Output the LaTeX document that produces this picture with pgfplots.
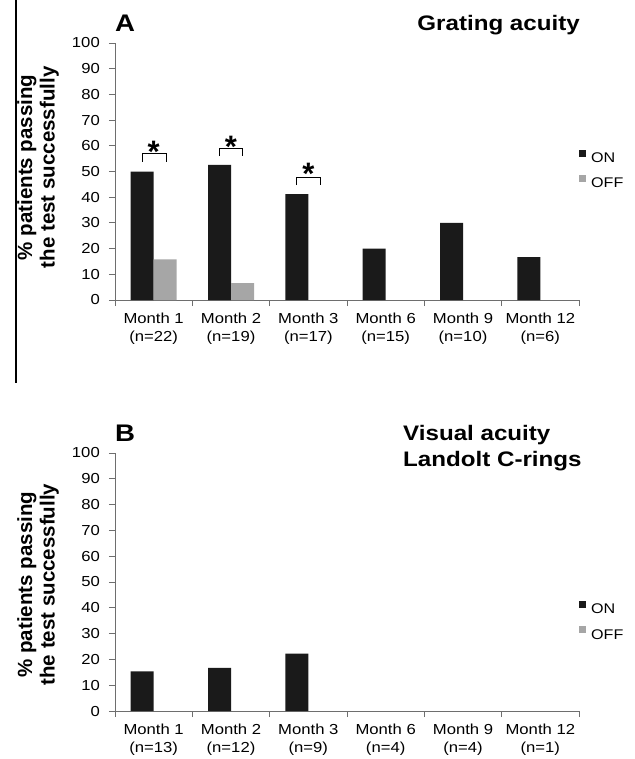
\documentclass[border=0pt]{standalone}
\usepackage{fontspec}
\setmainfont{Liberation Sans}
\newfontfamily\sfs{Liberation Sans}[FakeStretch=1.15]
\usepackage{pgfplots}
\pgfplotsset{compat=1.18}
\usepackage{pgfplotstable}
\definecolor{oncol}{HTML}{1A1A1A}
\definecolor{offcol}{HTML}{A6A6A6}
\definecolor{axcol}{HTML}{6E6E6E}

\pgfplotstableread{
x on
0 50.0
1 52.6
2 41.2
3 20.0
4 30.0
5 16.7
}\gratingon
\pgfplotstableread{
x off
0 15.8
1 6.6
}\gratingoff
\pgfplotstableread{
x on
0 15.4
1 16.7
2 22.2
}\landolton

\pgfplotsset{
  sq/.style={legend image code/.code={\fill[##1] (0pt,1.4pt) rectangle (7pt,8.4pt);}},
  panel/.style={
    scale only axis, width=464pt,
    xmin=-0.5, xmax=5.5, ymin=0, ymax=100,
    axis x line*=bottom, axis y line*=left,
    axis line style={axcol, line width=0.9pt},
    ytick={0,10,...,100},
    xtick={0,...,5},
    minor xtick={-0.5,0.5,...,5.5},
    tick align=outside,
    major tick length=6pt, minor tick length=6pt,
    every tick/.style={axcol, line width=0.9pt},
    major x tick style={draw=none},
    /pgf/number format/assume math mode=true,
    yticklabel style={font=\sfs\fontsize{14.5}{16}\selectfont, anchor=east, inner sep=0pt, xshift=-9pt},
    xticklabel style={font=\sfs\fontsize{14.5}{18}\selectfont, align=center, anchor=north, inner sep=0pt, yshift=-7pt},
    ybar, bar width=23pt,
    legend style={draw=none, fill=none, inner sep=0pt, font=\sfs\fontsize{14}{16}\selectfont, anchor=west, row sep=9pt,
      /tikz/every odd column/.append style={column sep=3pt}},
    legend cell align=left,
    ylabel={\% patients passing\\the test successfully},
    ylabel style={font=\bfseries\fontsize{20.5}{22.5}\selectfont, align=center, anchor=center},
  },
}

\begin{document}
\begin{tikzpicture}
\useasboundingbox (0pt,0pt) rectangle (634pt,-759pt);
\draw[line width=1.6pt] (16pt,0pt) -- (16pt,-383pt);

% Panel A
\begin{axis}[panel, height=257pt, at={(115pt,-300pt)}, anchor=south west,
  xticklabels={{Month 1\\(n=22)},{Month 2\\(n=19)},{Month 3\\(n=17)},{Month 6\\(n=15)},{Month 9\\(n=10)},{Month 12\\(n=6)}},
  ylabel style={at={(axis description cs:-0.166,0.516)}},
  legend style={at={(axis description cs:1.0,0.505)}},
]
\addplot[sq, fill=oncol, draw=none, bar shift=-11.5pt] table[x=x,y=on]{\gratingon};
\addplot[sq, fill=offcol, draw=none, bar shift=11.5pt] table[x=x,y=off]{\gratingoff};
\legend{ON,OFF}
\draw[black, line width=0.8pt] (axis cs:-0.15,53.8) |- (axis cs:0.16,57.1) -- (axis cs:0.16,53.8);
\draw[black, line width=0.8pt] (axis cs:0.85,56.0) |- (axis cs:1.15,58.9) -- (axis cs:1.15,56.0);
\draw[black, line width=0.8pt] (axis cs:1.85,44.7) |- (axis cs:2.15,47.6) -- (axis cs:2.15,44.7);
\node[anchor=north, inner sep=0pt, font=\bfseries\fontsize{31}{31}\selectfont] at (axis cs:0.0,61.8) {*};
\node[anchor=north, inner sep=0pt, font=\bfseries\fontsize{31}{31}\selectfont] at (axis cs:1.0,64.0) {*};
\node[anchor=north, inner sep=0pt, font=\bfseries\fontsize{31}{31}\selectfont] at (axis cs:2.0,53.4) {*};
\end{axis}

% Panel B
\begin{axis}[panel, height=258pt, at={(115pt,-711pt)}, anchor=south west,
  xticklabels={{Month 1\\(n=13)},{Month 2\\(n=12)},{Month 3\\(n=9)},{Month 6\\(n=4)},{Month 9\\(n=4)},{Month 12\\(n=1)}},
  ylabel style={at={(axis description cs:-0.166,0.49)}},
  legend style={at={(axis description cs:1.0,0.345)}},
]
\addplot[sq, fill=oncol, draw=none, bar shift=-11.5pt] table[x=x,y=on]{\landolton};
\addlegendentry{ON}
\addlegendimage{sq, fill=offcol, draw=none}
\addlegendentry{OFF}
\end{axis}

\node[anchor=base west, inner sep=0pt, font=\sfs\bfseries\fontsize{24}{24}\selectfont] at (115pt,-32pt) {A};
\node[anchor=base east, inner sep=0pt, font=\sfs\bfseries\fontsize{21}{21}\selectfont] at (580pt,-31pt) {Grating acuity};
\node[anchor=base west, inner sep=0pt, font=\sfs\bfseries\fontsize{24}{24}\selectfont] at (115pt,-441.7pt) {B};
\node[anchor=base west, inner sep=0pt, font=\sfs\bfseries\fontsize{21}{21}\selectfont] at (403pt,-440pt) {Visual acuity};
\node[anchor=base west, inner sep=0pt, font=\sfs\bfseries\fontsize{21}{21}\selectfont] at (403pt,-466.7pt) {Landolt C-rings};
\end{tikzpicture}
\end{document}
